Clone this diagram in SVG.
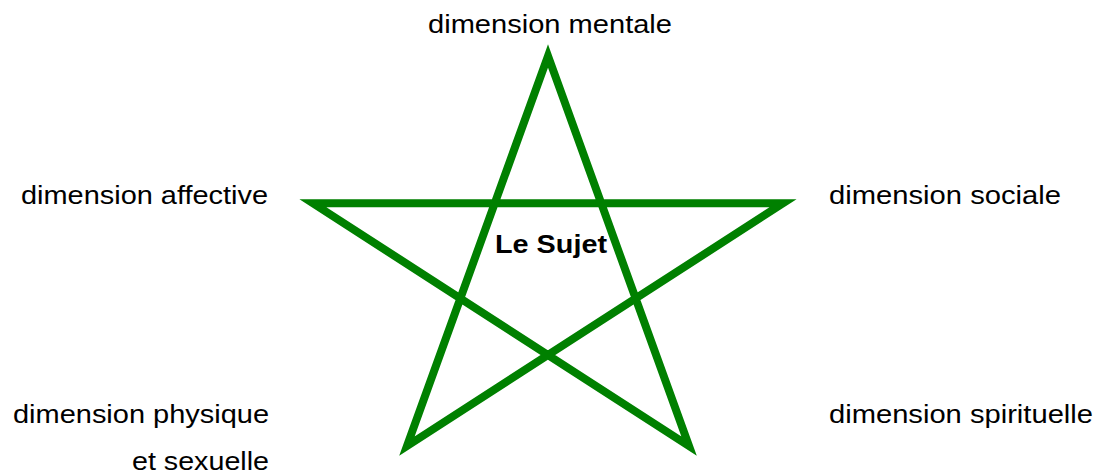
<svg xmlns="http://www.w3.org/2000/svg" width="1097" height="475" viewBox="0 0 1097 475">
<style>
.lbl{font-family:"Liberation Sans",Arial,sans-serif;font-size:26px;fill:#000}
.ctr{font-family:"Liberation Sans",Arial,sans-serif;font-size:26px;font-weight:bold;fill:#000}
.star{fill:none;stroke:#008000;stroke-width:8;stroke-linejoin:miter;stroke-miterlimit:10}
</style>
<rect width="1097" height="475" fill="#fff"/>
<g id="connectors">
<polygon class="star" points="548,56 407,446 783,203.3 313,203.3 689,446"/>
</g>
<g id="center"><text class="ctr" x="495" y="253" textLength="112" lengthAdjust="spacingAndGlyphs">Le Sujet</text></g>
<g id="mentale"><text class="lbl" x="428" y="33" textLength="244" lengthAdjust="spacingAndGlyphs">dimension mentale</text></g>
<g id="affective"><text class="lbl" x="21" y="204" textLength="247" lengthAdjust="spacingAndGlyphs">dimension affective</text></g>
<g id="sociale"><text class="lbl" x="829" y="204" textLength="232" lengthAdjust="spacingAndGlyphs">dimension sociale</text></g>
<g id="physique"><text class="lbl" x="13" y="423" textLength="256" lengthAdjust="spacingAndGlyphs">dimension physique</text><text class="lbl" x="132" y="470" textLength="137" lengthAdjust="spacingAndGlyphs">et sexuelle</text></g>
<g id="spirituelle"><text class="lbl" x="829" y="423" textLength="264" lengthAdjust="spacingAndGlyphs">dimension spirituelle</text></g>
</svg>
